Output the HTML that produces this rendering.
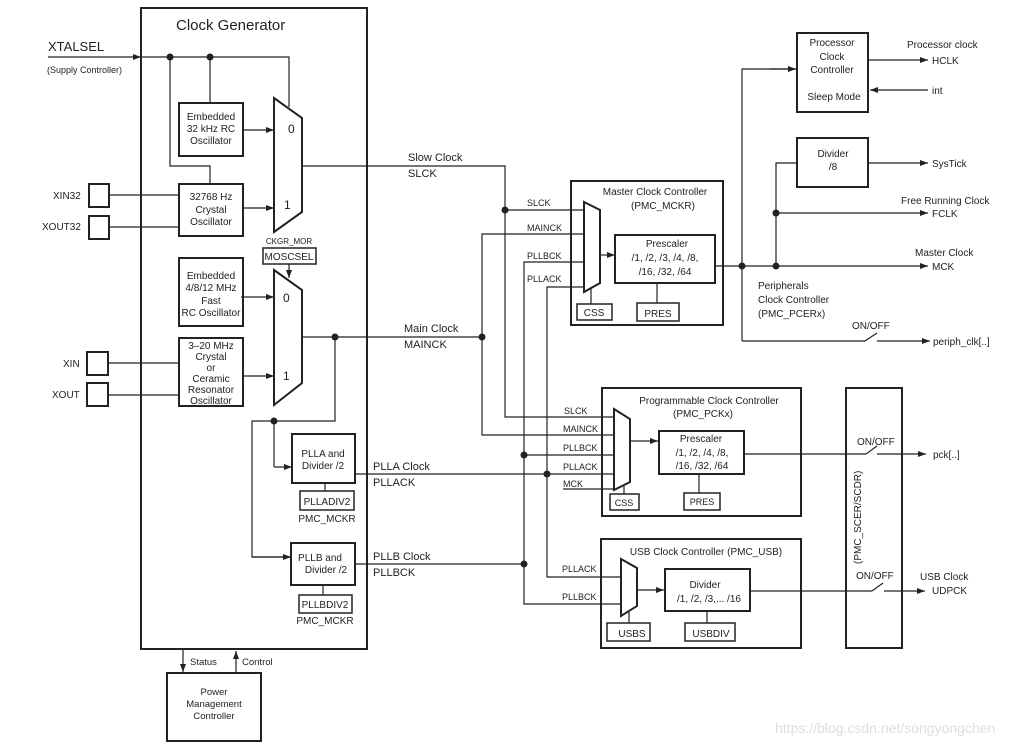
<!DOCTYPE html>
<html><head><meta charset="utf-8"><style>
html,body{margin:0;padding:0;background:#fff;}
svg{display:block;}
text{font-family:"Liberation Sans",Arial,sans-serif;fill:#222;}
</style></head><body>
<svg width="1033" height="746" viewBox="0 0 1033 746" xmlns="http://www.w3.org/2000/svg">
<defs>
<marker id="a" markerWidth="8" markerHeight="6" refX="8" refY="3" orient="auto" markerUnits="userSpaceOnUse"><path d="M0,0 L8,3 L0,6 z" fill="#222"/></marker>
</defs>
<g fill="none" stroke="#222" stroke-width="1.2">
<!-- Clock generator -->
<rect x="141" y="8" width="226" height="641" stroke-width="2"/>
<line x1="48" y1="57" x2="141" y2="57" marker-end="url(#a)"/>
<polyline points="141,57 289,57 289,107"/>
<polyline points="170,57 170,166 210,166 210,184"/>
<line x1="210" y1="57" x2="210" y2="103"/>
<rect x="179" y="103" width="64" height="53" stroke-width="2"/>
<rect x="179" y="184" width="64" height="52" stroke-width="2"/>
<rect x="89" y="184" width="20" height="23" stroke-width="2"/>
<rect x="89" y="216" width="20" height="23" stroke-width="2"/>
<line x1="109" y1="195" x2="179" y2="195"/>
<line x1="109" y1="227" x2="179" y2="227"/>
<line x1="243" y1="130" x2="274" y2="130" marker-end="url(#a)"/>
<line x1="243" y1="208" x2="274" y2="208" marker-end="url(#a)"/>
<polygon points="274,98 302,118 302,212 274,232" stroke-width="2"/>
<rect x="263" y="248" width="53" height="16" stroke-width="1.5"/>
<line x1="289" y1="264" x2="289" y2="278" marker-end="url(#a)"/>
<rect x="179" y="258" width="64" height="68" stroke-width="2"/>
<rect x="179" y="338" width="64" height="68" stroke-width="2"/>
<rect x="87" y="352" width="21" height="23" stroke-width="2"/>
<rect x="87" y="383" width="21" height="23" stroke-width="2"/>
<line x1="108" y1="363" x2="179" y2="363"/>
<line x1="108" y1="395" x2="179" y2="395"/>
<line x1="241" y1="297" x2="274" y2="297" marker-end="url(#a)"/>
<line x1="243" y1="376" x2="274" y2="376" marker-end="url(#a)"/>
<polygon points="274,270 302,290 302,383 274,405" stroke-width="2"/>
<!-- slow/main -->
<polyline points="302,166 505,166 505,417 614,417"/>
<line x1="505" y1="210" x2="584" y2="210"/>
<line x1="302" y1="337" x2="482" y2="337"/>
<polyline points="584,234 482,234 482,435 614,435"/>
<polyline points="335,337 335,421 252,421 252,557 291,557" />
<line x1="252" y1="557" x2="291" y2="557" marker-end="url(#a)"/>
<line x1="274" y1="421" x2="274" y2="467"/>
<line x1="274" y1="467" x2="292" y2="467" marker-end="url(#a)"/>
<rect x="292" y="434" width="63" height="49" stroke-width="2"/>
<rect x="300" y="491" width="54" height="19" stroke-width="1.5"/>
<line x1="325" y1="483" x2="325" y2="491"/>
<rect x="291" y="543" width="64" height="42" stroke-width="2"/>
<rect x="299" y="595" width="53" height="18" stroke-width="1.5"/>
<line x1="323" y1="585" x2="323" y2="595"/>
<line x1="355" y1="474" x2="614" y2="474"/>
<line x1="355" y1="564" x2="524" y2="564"/>
<polyline points="584,262 524,262 524,604 621,604"/>
<line x1="524" y1="455" x2="614" y2="455"/>
<polyline points="584,287 547,287 547,577 621,577"/>
<line x1="563" y1="489" x2="614" y2="489"/>
<!-- master -->
<rect x="571" y="181" width="152" height="144" stroke-width="2"/>
<polygon points="584,202 600,210 600,283 584,292" stroke-width="2"/>
<line x1="600" y1="255" x2="615" y2="255" marker-end="url(#a)"/>
<rect x="615" y="235" width="100" height="48" stroke-width="2"/>
<rect x="577" y="304" width="35" height="16" stroke-width="1.5"/>
<line x1="591" y1="288" x2="591" y2="304"/>
<rect x="637" y="303" width="42" height="18" stroke-width="1.5"/>
<line x1="657" y1="283" x2="657" y2="303"/>
<line x1="715" y1="266" x2="928" y2="266" marker-end="url(#a)"/>
<polyline points="742,341 742,69 796,69"/>
<line x1="770" y1="69" x2="796" y2="69" marker-end="url(#a)"/>
<line x1="742" y1="341" x2="865" y2="341"/>
<line x1="865" y1="341" x2="877" y2="333"/>
<line x1="877" y1="341" x2="930" y2="341" marker-end="url(#a)"/>
<polyline points="776,266 776,163 797,163"/>
<line x1="776" y1="213" x2="928" y2="213" marker-end="url(#a)"/>
<rect x="797" y="33" width="71" height="79" stroke-width="2"/>
<line x1="868" y1="60" x2="928" y2="60" marker-end="url(#a)"/>
<line x1="928" y1="90" x2="870" y2="90" marker-end="url(#a)"/>
<rect x="797" y="138" width="71" height="49" stroke-width="2"/>
<line x1="868" y1="163" x2="928" y2="163" marker-end="url(#a)"/>
<!-- programmable -->
<rect x="602" y="388" width="199" height="128" stroke-width="2"/>
<polygon points="614,409 630,419 630,482 614,490" stroke-width="2"/>
<line x1="630" y1="441" x2="658" y2="441" marker-end="url(#a)"/>
<rect x="659" y="431" width="85" height="43" stroke-width="2"/>
<rect x="610" y="494" width="29" height="16" stroke-width="1.5"/>
<line x1="624" y1="486" x2="624" y2="494"/>
<rect x="684" y="493" width="36" height="17" stroke-width="1.5"/>
<line x1="699" y1="474" x2="699" y2="493"/>
<line x1="744" y1="454" x2="866" y2="454"/>
<line x1="866" y1="454" x2="877" y2="446"/>
<line x1="877" y1="454" x2="926" y2="454" marker-end="url(#a)"/>
<!-- usb -->
<rect x="601" y="539" width="200" height="109" stroke-width="2"/>
<polygon points="621,559 637,568 637,606 621,616" stroke-width="2"/>
<line x1="637" y1="590" x2="664" y2="590" marker-end="url(#a)"/>
<rect x="665" y="569" width="85" height="42" stroke-width="2"/>
<rect x="607" y="623" width="43" height="18" stroke-width="1.5"/>
<line x1="629" y1="612" x2="629" y2="623"/>
<rect x="685" y="623" width="50" height="18" stroke-width="1.5"/>
<line x1="707" y1="611" x2="707" y2="623"/>
<line x1="750" y1="591" x2="872" y2="591"/>
<line x1="872" y1="591" x2="883" y2="583"/>
<line x1="884" y1="591" x2="925" y2="591" marker-end="url(#a)"/>
<rect x="846" y="388" width="56" height="260" stroke-width="2"/>
<!-- PMC -->
<rect x="167" y="673" width="94" height="68" stroke-width="2"/>
<line x1="183" y1="650" x2="183" y2="672" marker-end="url(#a)"/>
<line x1="236" y1="672" x2="236" y2="651" marker-end="url(#a)"/>
</g>
<g fill="#222">
<circle cx="170" cy="57" r="3.5"/><circle cx="210" cy="57" r="3.5"/>
<circle cx="505" cy="210" r="3.5"/><circle cx="335" cy="337" r="3.5"/><circle cx="482" cy="337" r="3.5"/>
<circle cx="274" cy="421" r="3.5"/><circle cx="524" cy="455" r="3.5"/><circle cx="524" cy="564" r="3.5"/>
<circle cx="547" cy="474" r="3.5"/><circle cx="742" cy="266" r="3.5"/><circle cx="776" cy="266" r="3.5"/><circle cx="776" cy="213" r="3.5"/>
</g>
<g font-size="10">
<text x="176" y="30" font-size="15">Clock Generator</text>
<text x="48" y="51" font-size="13">XTALSEL</text>
<text x="47" y="73" font-size="9">(Supply Controller)</text>
<g text-anchor="middle">
<text x="211" y="120">Embedded</text><text x="211" y="132">32 kHz RC</text><text x="211" y="144">Oscillator</text>
<text x="211" y="200">32768 Hz</text><text x="211" y="213">Crystal</text><text x="211" y="225">Oscillator</text>
<text x="211" y="279">Embedded</text><text x="211" y="291">4/8/12 MHz</text><text x="211" y="304">Fast</text><text x="211" y="316">RC Oscillator</text>
<text x="211" y="349">3–20 MHz</text><text x="211" y="360">Crystal</text><text x="211" y="371">or</text><text x="211" y="382">Ceramic</text><text x="211" y="393">Resonator</text><text x="211" y="404">Oscillator</text>
<text x="289" y="244" font-size="8">CKGR_MOR</text>
<text x="289" y="260">MOSCSEL</text>
<text x="323" y="457">PLLA and</text><text x="323" y="469">Divider /2</text>
<text x="327" y="505">PLLADIV2</text><text x="327" y="522">PMC_MCKR</text>
<text x="320" y="561">PLLB and</text><text x="326" y="573">Divider /2</text>
<text x="325" y="608">PLLBDIV2</text><text x="325" y="624">PMC_MCKR</text>
<text x="214" y="695" font-size="9.5">Power</text><text x="214" y="707" font-size="9.5">Management</text><text x="214" y="719" font-size="9.5">Controller</text>
<text x="655" y="195">Master Clock Controller</text><text x="663" y="209">(PMC_MCKR)</text>
<text x="667" y="247">Prescaler</text><text x="665" y="261">/1, /2, /3, /4, /8,</text><text x="665" y="275">/16, /32, /64</text>
<text x="594" y="316">CSS</text><text x="658" y="317">PRES</text>
<text x="709" y="404">Programmable Clock Controller</text><text x="703" y="417">(PMC_PCKx)</text>
<text x="701" y="442">Prescaler</text><text x="702" y="456">/1, /2, /4, /8,</text><text x="702" y="469">/16, /32, /64</text>
<text x="624" y="506" font-size="9">CSS</text><text x="702" y="505" font-size="9">PRES</text>
<text x="706" y="555">USB Clock Controller (PMC_USB)</text>
<text x="705" y="588">Divider</text><text x="709" y="602">/1, /2, /3,... /16</text>
<text x="632" y="637">USBS</text><text x="711" y="637">USBDIV</text>
<text x="832" y="46">Processor</text><text x="832" y="60">Clock</text><text x="832" y="73">Controller</text><text x="834" y="100">Sleep Mode</text>
<text x="833" y="157">Divider</text><text x="833" y="170">/8</text>
</g>
<text x="288" y="133" font-size="12">0</text><text x="284" y="209" font-size="12">1</text>
<text x="283" y="302" font-size="12">0</text><text x="283" y="380" font-size="12">1</text>
<text x="53" y="199">XIN32</text><text x="42" y="230">XOUT32</text>
<text x="63" y="367">XIN</text><text x="52" y="398">XOUT</text>
<text x="408" y="161" font-size="11">Slow Clock</text><text x="408" y="177" font-size="11">SLCK</text>
<text x="404" y="332" font-size="11">Main Clock</text><text x="404" y="348" font-size="11">MAINCK</text>
<text x="373" y="470" font-size="11">PLLA Clock</text><text x="373" y="486" font-size="11">PLLACK</text>
<text x="373" y="560" font-size="11">PLLB Clock</text><text x="373" y="576" font-size="11">PLLBCK</text>
<g font-size="9">
<text x="527" y="206">SLCK</text><text x="527" y="231">MAINCK</text><text x="527" y="259">PLLBCK</text><text x="527" y="282">PLLACK</text>
<text x="564" y="414">SLCK</text><text x="563" y="432">MAINCK</text><text x="563" y="451">PLLBCK</text><text x="563" y="470">PLLACK</text><text x="563" y="487">MCK</text>
<text x="562" y="572">PLLACK</text><text x="562" y="600">PLLBCK</text>
</g>
<text x="190" y="665" font-size="9.5">Status</text><text x="242" y="665" font-size="9.5">Control</text>
<text x="907" y="48">Processor clock</text><text x="932" y="64">HCLK</text><text x="932" y="94">int</text>
<text x="932" y="167">SysTick</text>
<text x="901" y="204">Free Running Clock</text><text x="932" y="217">FCLK</text>
<text x="915" y="256">Master Clock</text><text x="932" y="270">MCK</text>
<text x="758" y="289">Peripherals</text><text x="758" y="303">Clock Controller</text><text x="758" y="317">(PMC_PCERx)</text>
<text x="852" y="329">ON/OFF</text><text x="933" y="345">periph_clk[..]</text>
<text x="857" y="445">ON/OFF</text><text x="933" y="458">pck[..]</text>
<text x="856" y="579">ON/OFF</text><text x="920" y="580">USB Clock</text><text x="932" y="594">UDPCK</text>
<text transform="translate(861,564) rotate(-90)" font-size="10">(PMC_SCER/SCDR)</text>
<text x="775" y="733" font-size="14" style="fill:#ddd">https://blog.csdn.net/songyongchen</text>
</g>
</svg>
</body></html>
